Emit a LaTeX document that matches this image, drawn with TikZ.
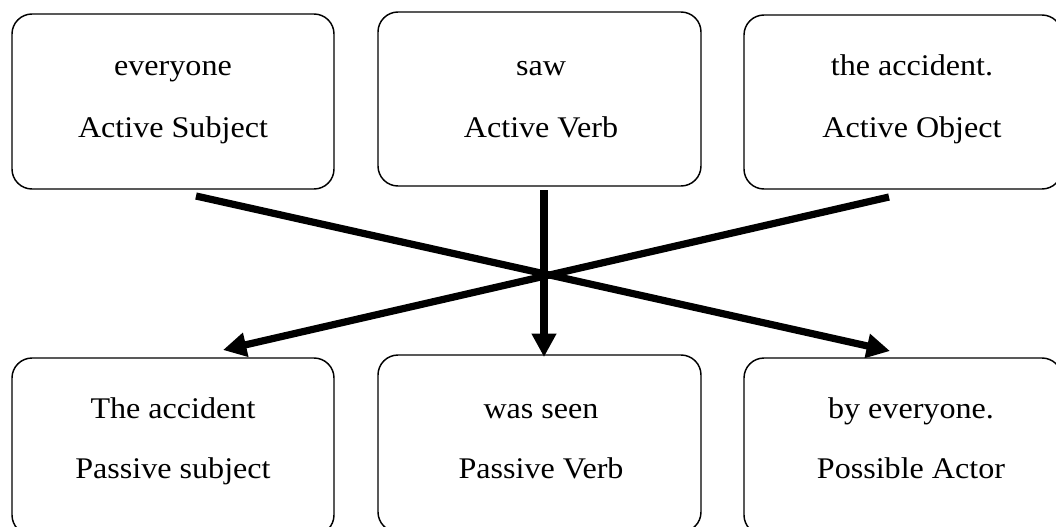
\documentclass[tikz,border=0pt]{standalone}
\usepackage{fontspec}
\setmainfont{Liberation Serif}[FakeStretch=1.07]
\usetikzlibrary{arrows.meta}
\begin{document}
\begin{tikzpicture}[x=0.75pt,y=-0.75pt,
  box/.style={draw,line width=1.1pt,rounded corners=15pt,inner sep=0pt},
  lbl/.style={anchor=base,inner sep=0pt,font=\fontsize{22.5}{27}\selectfont},
  conn/.style={line width=5.4pt,-{Triangle[length=17.5pt,width=17.5pt]}}]
\useasboundingbox (0,0) rectangle (1056,526);
\clip (0,0) rectangle (1056,526);
% boxes
\node[box,minimum width=241.5pt,minimum height=131.25pt] (t1) at (173,101.5) {};
\node[box,minimum width=242.25pt,minimum height=130.5pt] (t2) at (539.5,99) {};
\node[box,minimum width=238.5pt,minimum height=130.5pt] (t3) at (903,102) {};
\node[box,minimum width=241.5pt,minimum height=132.75pt] (b1) at (173,446.5) {};
\node[box,minimum width=242.25pt,minimum height=132.75pt] (b2) at (539.5,443.5) {};
\node[box,minimum width=238.5pt,minimum height=132.75pt] (b3) at (903,446.5) {};
% texts
\node[lbl] (t1a) at (173,75) {everyone};
\node[lbl] (t1b) at (173,137) {Active Subject};
\node[lbl] (t2a) at (541,75) {saw};
\node[lbl] (t2b) at (541,137) {Active Verb};
\node[lbl] (t3a) at (912,75) {the accident.};
\node[lbl] (t3b) at (912,137) {Active Object};
\node[lbl] (b1a) at (173,418) {The accident};
\node[lbl] (b1b) at (173,478) {Passive subject};
\node[lbl] (b2a) at (541,418) {was seen};
\node[lbl] (b2b) at (541,478) {Passive Verb};
\node[lbl] (b3a) at (911,418) {by everyone.};
\node[lbl] (b3b) at (911,478) {Possible Actor};
% connectors
\coordinate (s1) at (196,196);
\coordinate (e1) at (890,351);
\coordinate (s2) at (544,190);
\coordinate (e2) at (544,357);
\coordinate (s3) at (889,197);
\coordinate (e3) at (223,350);
\draw[conn] (s1) -- (e1);
\draw[conn] (s2) -- (e2);
\draw[conn] (s3) -- (e3);
\end{tikzpicture}
\end{document}
